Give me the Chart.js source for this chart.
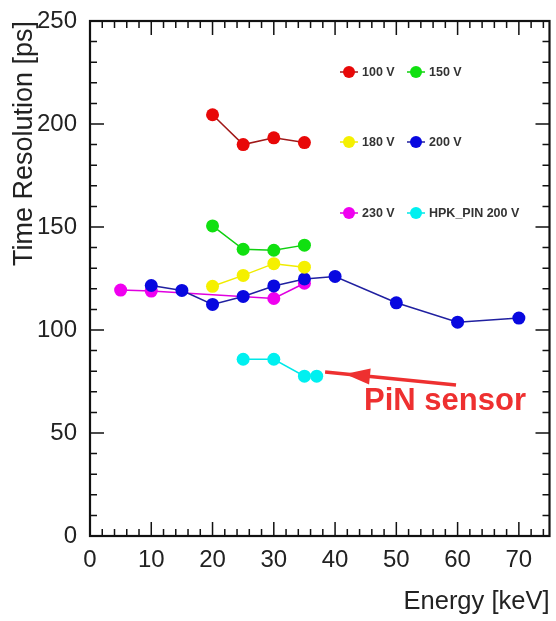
<!DOCTYPE html>
<html>
<head>
<meta charset="utf-8">
<script src="https://cdn.jsdelivr.net/npm/chart.js@4.4.1/dist/chart.umd.min.js"></script>
<style>
  body { margin: 0; background: #fff; }
  canvas { display: block; }
</style>
</head>
<body>
<canvas id="resChart" width="556" height="621"></canvas>
<script>
// energies [keV] and time resolution [ps] per bias voltage
const seriesNames = ['100 V', '150 V', '180 V', '200 V', '230 V', 'HPK_PIN 200 V'];
const seriesColors = ['#e80808', '#10e010', '#f5f000', '#0808e0', '#f000f0', '#00f0f0'];
const lineColors = ['#a01818', '#10d010', '#f0ec00', '#2020a0', '#e000e0', '#00e8e8'];

const energy100 = [20, 25, 30, 35];
const res100 = [204.5, 190, 193.3, 191];

const energy150 = [20, 25, 30, 35];
const res150 = [150.5, 139.2, 138.7, 141.2];

const energy180 = [20, 25, 30, 35];
const res180 = [121.2, 126.5, 132.2, 130.5];

const energy200 = [10, 15, 20, 25, 30, 35, 40, 50, 60, 70];
const res200 = [121.6, 119.2, 112.4, 116.3, 121.4, 124.8, 126, 113.2, 103.8, 105.8];

const energy230 = [5, 10, 30, 35];
const res230 = [119.4, 118.9, 115.3, 122.7];

const energyPin = [25, 30, 35, 37];
const resPin = [85.8, 85.8, 77.6, 77.6];

const xTicks = [0, 10, 20, 30, 40, 50, 60, 70];
const yTicks = [0, 50, 100, 150, 200, 250];

const allX = [energy100, energy150, energy180, energy200, energy230, energyPin];
const allY = [res100, res150, res180, res200, res230, resPin];

const datasets = seriesNames.map((name, i) => ({
    label: name,
    data: allX[i].map((x, j) => ({ x: x, y: allY[i][j] })),
    showLine: true,
    borderColor: lineColors[i],
    borderWidth: 1.5,
    pointRadius: 6.5,
    pointBorderWidth: 0,
    pointBackgroundColor: seriesColors[i],
    pointHoverRadius: 6.5
}));

// ROOT-like frame with inward ticks on all four sides
const framePlugin = {
    id: 'frame',
    afterDraw(chart) {
        const c = chart.ctx;
        const a = chart.chartArea;
        const xs = chart.scales.x;
        const ys = chart.scales.y;
        c.save();
        c.strokeStyle = '#111';
        c.lineWidth = 1.5;
        c.beginPath();
        for (let v = 0; v <= 75; v += 2) {
            const px = xs.getPixelForValue(v);
            const len = v % 10 === 0 ? 14 : 7;
            c.moveTo(px, a.bottom); c.lineTo(px, a.bottom - len);
            c.moveTo(px, a.top); c.lineTo(px, a.top + len);
        }
        for (let v = 0; v <= 250; v += 10) {
            const py = ys.getPixelForValue(v);
            const len = v % 50 === 0 ? 14 : 7;
            c.moveTo(a.left, py); c.lineTo(a.left + len, py);
            c.moveTo(a.right, py); c.lineTo(a.right - len, py);
        }
        c.stroke();
        c.lineWidth = 2.2;
        c.strokeRect(a.left, a.top, a.right - a.left, a.bottom - a.top);
        c.restore();
    }
};

// legend in three rows of two, inside the frame
const legendPlugin = {
    id: 'rootLegend',
    afterDraw(chart) {
        const c = chart.ctx;
        const cols = [349, 416];
        const rows = [72, 142, 213];
        c.save();
        c.font = 'bold 12.5px "Liberation Sans", Arial, sans-serif';
        c.textBaseline = 'middle';
        seriesNames.forEach((name, i) => {
            const x = cols[i % 2];
            const y = rows[Math.floor(i / 2)];
            c.strokeStyle = lineColors[i];
            c.lineWidth = 1.5;
            c.beginPath();
            c.moveTo(x - 9, y); c.lineTo(x + 9, y);
            c.stroke();
            c.fillStyle = seriesColors[i];
            c.beginPath();
            c.arc(x, y, 6, 0, Math.PI * 2);
            c.fill();
            c.fillStyle = '#333';
            c.fillText(name, x + 13, y + 1);
        });
        c.restore();
    }
};

// red arrow and label pointing at the PiN sensor points
const notePlugin = {
    id: 'pinNote',
    afterDraw(chart) {
        const c = chart.ctx;
        const tail = { x: 456, y: 385 };
        const tip = { x: 345, y: 374 };
        const ang = Math.atan2(tip.y - tail.y, tip.x - tail.x);
        c.save();
        c.strokeStyle = '#ee3030';
        c.fillStyle = '#ee3030';
        c.lineWidth = 3.5;
        c.beginPath();
        c.moveTo(tail.x, tail.y);
        c.lineTo(tip.x + 20 * Math.cos(ang), tip.y + 20 * Math.sin(ang));
        c.stroke();
        c.beginPath();
        c.moveTo(tip.x, tip.y);
        c.lineTo(tip.x - 25 * Math.cos(ang) + 8 * Math.sin(ang), tip.y - 25 * Math.sin(ang) - 8 * Math.cos(ang));
        c.lineTo(tip.x - 25 * Math.cos(ang) - 8 * Math.sin(ang), tip.y - 25 * Math.sin(ang) + 8 * Math.cos(ang));
        c.closePath();
        c.fill();
        c.font = 'bold 31px "Liberation Sans", Arial, sans-serif';
        c.textBaseline = 'alphabetic';
        c.fillText('PiN sensor', 364, 410);
        c.restore();
    }
};

const ctx = document.getElementById('resChart').getContext('2d');
const resChart = new Chart(ctx, {
    type: 'scatter',
    data: { datasets: datasets },
    options: {
        responsive: false,
        animation: false,
        devicePixelRatio: 1,
        layout: { padding: { top: 21, right: 4, left: 0, bottom: 0 } },
        plugins: {
            legend: { display: false },
            tooltip: { enabled: false }
        },
        scales: {
            x: {
                type: 'linear',
                min: 0,
                max: 75,
                afterFit: s => { s.height = 85; },
                afterBuildTicks: s => { s.ticks = xTicks.map(v => ({ value: v })); },
                grid: { display: false },
                border: { display: false },
                ticks: {
                    padding: 2,
                    color: '#222',
                    font: { family: 'Liberation Sans', size: 24 }
                },
                title: {
                    display: true,
                    text: 'Energy [keV]',
                    align: 'end',
                    color: '#222',
                    font: { family: 'Liberation Sans', size: 25.5 },
                    padding: { top: 0, bottom: 4 }
                }
            },
            y: {
                type: 'linear',
                min: 0,
                max: 250,
                afterFit: s => { s.width = 90; },
                afterBuildTicks: s => { s.ticks = yTicks.map(v => ({ value: v })); },
                grid: { display: false },
                border: { display: false },
                ticks: {
                    padding: 5,
                    color: '#222',
                    font: { family: 'Liberation Sans', size: 24 }
                },
                title: {
                    display: true,
                    text: 'Time Resolution [ps]',
                    align: 'end',
                    color: '#222',
                    font: { family: 'Liberation Sans', size: 27 },
                    padding: { top: 8, bottom: 0 }
                }
            }
        }
    },
    plugins: [framePlugin, legendPlugin, notePlugin]
});
</script>
</body>
</html>
